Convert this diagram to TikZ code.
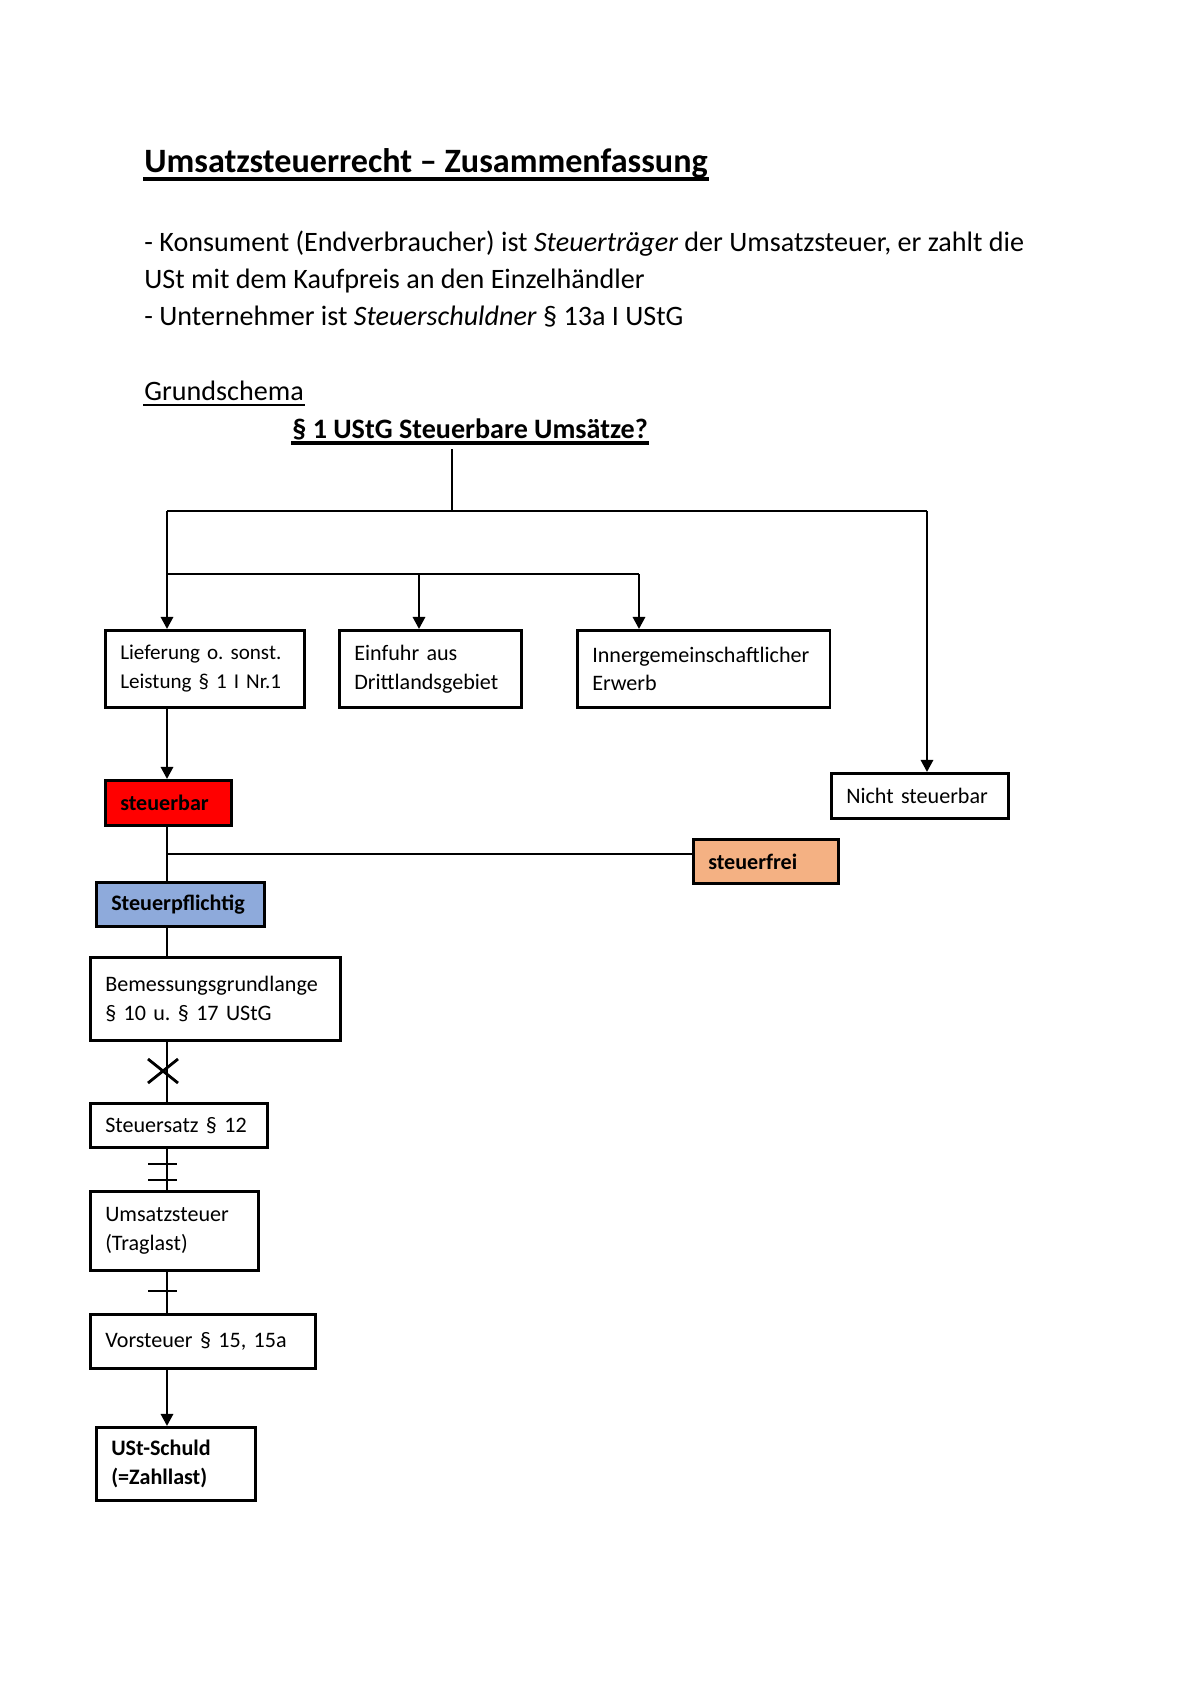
\documentclass[tikz,border=0pt]{standalone}
\usepackage{fontspec}
\setmainfont{Carlito}
\frenchspacing
\usetikzlibrary{arrows.meta}
\definecolor{rot}{HTML}{FF0000}
\definecolor{hellblau}{HTML}{8EAADB}
\definecolor{lachs}{HTML}{F4B183}
\tikzset{
  kasten/.style={draw, anchor=north west, align=left, inner xsep=0.26cm, inner ysep=0pt,
    font=\fontsize{11}{14.4}\selectfont},
  fett/.style={font=\bfseries\fontsize{11}{14.4}\selectfont},
  pfeil/.style={-{Triangle[width=6pt,length=6pt]}},
  zeile/.style={anchor=base west, inner sep=0pt, font=\fontsize{14}{18}\selectfont},
}
\begin{document}
\begin{tikzpicture}[x=0.0175cm,y=-0.0175cm,line width=1.4pt]
\useasboundingbox (0,0) rectangle (1200,1698);
% Kopf
\node[zeile, font=\bfseries\fontsize{17}{20}\selectfont] (titel) at (143,172) {Umsatzsteuerrecht – Zusammenfassung};
\draw[line width=1.7pt] ([yshift=-3.5pt]titel.base west) -- ([yshift=-3.5pt]titel.base east);
\node[zeile] (z1) at (143,251) {- Konsument (Endverbraucher) ist \textit{Steuerträger} der Umsatzsteuer, er zahlt die};
\node[zeile] (z2) at (143,288) {USt mit dem Kaufpreis an den Einzelhändler};
\node[zeile] (z3) at (143,325) {- Unternehmer ist \textit{Steuerschuldner} § 13a I UStG};
\node[zeile] (grund) at (143,400) {Grundschema};
\draw[line width=1.1pt] ([yshift=-2.5pt]grund.base west) -- ([yshift=-2.5pt]grund.base east);
\node[zeile, font=\bfseries\fontsize{14}{18}\selectfont] (frage) at (291,438) {§ 1 UStG Steuerbare Umsätze?};
\draw[line width=1.6pt] ([yshift=-2.5pt]frage.base west) -- ([yshift=-2.5pt]frage.base east);

% Kaesten
\node[kasten, font=\fontsize{10.5}{14.4}\selectfont, text width=2.96cm, minimum height=1.3475cm] (lief) at (104,629) {Lieferung o. sonst.\\Leistung § 1 I Nr.1};
\node[kasten, text width=2.67cm, minimum height=1.3475cm] (einfuhr) at (338,629) {Einfuhr aus\\Drittlandsgebiet};
\node[kasten, text width=3.9cm, minimum height=1.3475cm] (erwerb) at (576,629) {Innergemeinschaftlicher\\Erwerb};
\node[kasten, text width=2.58cm, minimum height=0.7875cm] (nicht) at (830,772) {Nicht steuerbar};
\node[kasten, fett, fill=rot, text width=1.685cm, minimum height=0.7875cm] (steuerbar) at (104,779) {steuerbar};
\node[kasten, fett, fill=lachs, text width=2.02cm, minimum height=0.77cm] (frei) at (692,838) {steuerfrei};
\node[kasten, fett, fill=hellblau, text width=2.42cm, minimum height=0.77cm] (pflichtig) at (95,881) {Steuerpflichtig};
\node[kasten, text width=3.855cm, minimum height=1.4525cm] (bemessung) at (89,956) {Bemessungsgrundlange\\§ 10 u. § 17 UStG};
\node[kasten, text width=2.58cm, minimum height=0.77cm] (satz) at (89,1102) {Steuersatz § 12};
\node[kasten, text width=2.42cm, minimum height=1.3825cm] (ust) at (89,1190) {Umsatzsteuer\\(Traglast)};
\node[kasten, text width=3.42cm, minimum height=0.945cm] (vorsteuer) at (89,1313) {Vorsteuer § 15, 15a};
\node[kasten, fett, text width=2.26cm, minimum height=1.2775cm] (schuld) at (95,1426) {USt-Schuld\\(=Zahllast)};

% Verzweigungen
\coordinate (f) at (452,449);
\coordinate (gabel) at (452,511);
\coordinate (links) at (167,511);
\coordinate (rechts) at (927,511);
\coordinate (mitte) at (167,574);
\coordinate (m2) at (419,574);
\coordinate (m3) at (639,574);
\coordinate (abzw) at (167,854);

\draw (f) -- (gabel);
\draw (links) -- (rechts);
\draw[pfeil] (links) -- (links |- lief.north);
\draw (mitte) -- (m3);
\draw[pfeil] (m2) -- (m2 |- einfuhr.north);
\draw[pfeil] (m3) -- (m3 |- erwerb.north);
\draw[pfeil] (rechts) -- (rechts |- nicht.north);
\draw[pfeil] (links |- lief.south) -- (links |- steuerbar.north);
\draw (links |- steuerbar.south) -- (links |- pflichtig.north);
\draw[line width=1.1pt] (abzw) -- (abzw -| frei.west);
\draw (links |- pflichtig.south) -- (links |- bemessung.north);
\draw (links |- bemessung.south) -- (links |- satz.north);
\draw (148,1059) -- (178,1083) (148,1083) -- (178,1059);
\draw (links |- satz.south) -- (links |- ust.north);
\draw (148,1164) -- (177,1164) (148,1180) -- (177,1180);
\draw (links |- ust.south) -- (links |- vorsteuer.north);
\draw (148,1291) -- (177,1291);
\draw[pfeil] (links |- vorsteuer.south) -- (links |- schuld.north);
\end{tikzpicture}
\end{document}
